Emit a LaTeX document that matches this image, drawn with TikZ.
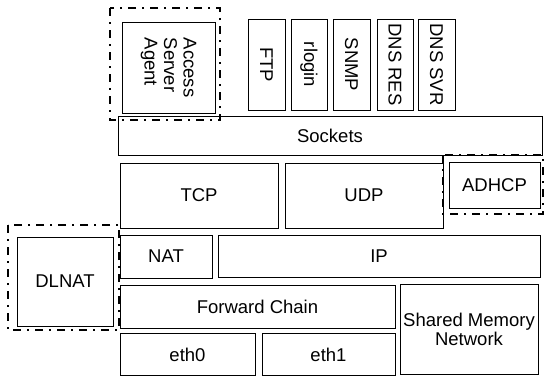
\documentclass[tikz,border=0pt]{standalone}
\usepackage{fontspec}
\setmainfont{Liberation Sans}
\begin{document}
\begin{tikzpicture}[x=1pt,y=-1pt,
  box/.style={draw=black, line width=0.9pt, rectangle, inner sep=0pt, align=center,
    font=\fontsize{18.5}{19.5}\selectfont},
  vbox/.style={box, rotate=-90},
  grp/.style={draw=black, line width=1.6pt, dash pattern=on 8pt off 6pt on 2pt off 6pt}]
\useasboundingbox (0,0) rectangle (544,376);
% application layer
\node[vbox, minimum width=91pt, minimum height=93pt, align=left] (asa) at (168.5,67.5) {Access\\Server\\Agent};
\node[vbox, minimum width=91pt, minimum height=37pt] (ftp) at (266.5,64.5) {FTP};
\node[vbox, minimum width=91pt, minimum height=36pt] (rlogin) at (309,64.5) {rlogin};
\node[vbox, minimum width=91pt, minimum height=37pt] (snmp) at (351.5,64.5) {SNMP};
\node[vbox, minimum width=91pt, minimum height=36pt] (dnsres) at (395,64.5) {DNS RES};
\node[vbox, minimum width=91pt, minimum height=37pt] (dnssvr) at (436.5,64.5) {DNS SVR};
% sockets
\node[box, minimum width=424pt, minimum height=39pt] (sockets) at (330,135.5) {Sockets};
% transport
\node[box, minimum width=158pt, minimum height=65pt] (tcp) at (199,195.5) {TCP};
\node[box, minimum width=158pt, minimum height=65pt] (udp) at (364,195.5) {UDP};
\node[box, minimum width=91pt, minimum height=46pt] (adhcp) at (494.5,185) {ADHCP};
% network
\node[box, minimum width=92pt, minimum height=43pt] (nat) at (166,256.5) {NAT};
\node[box, minimum width=322pt, minimum height=42pt] (ip) at (379,256) {IP};
\node[box, minimum width=96pt, minimum height=89pt] (dlnat) at (65,281.5) {DLNAT};
% lower layers
\node[box, minimum width=275pt, minimum height=43pt] (fwd) at (257.5,306.5) {Forward Chain};
\node[box, minimum width=138pt, minimum height=90pt] (shm) at (469,329.5) {Shared Memory\\Network};
\node[box, minimum width=135pt, minimum height=42pt] (eth0) at (187.5,354.5) {eth0};
\node[box, minimum width=133pt, minimum height=42pt] (eth1) at (328.5,354.5) {eth1};
% dash-dot groups
\draw[grp] (110,8) rectangle (220,120);
\draw[grp] (443,155) rectangle (543,214);
\draw[grp] (8,225) rectangle (119,330);
\end{tikzpicture}
\end{document}
